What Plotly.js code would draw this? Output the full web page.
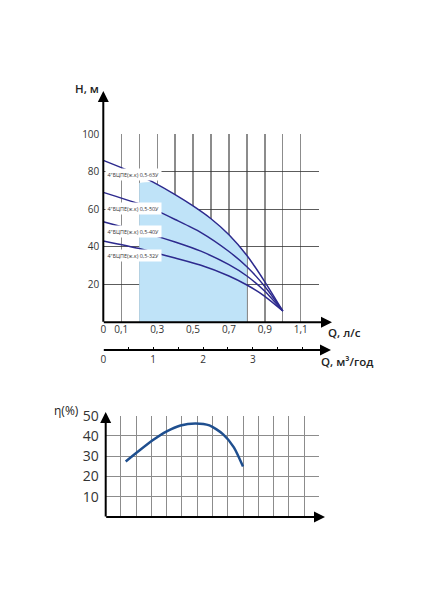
<!DOCTYPE html>
<html>
<head>
<meta charset="utf-8">
<script src="https://cdn.plot.ly/plotly-3.0.1.min.js"></script>
<style>html,body{margin:0;padding:0;background:#fff}#chart{width:423px;height:600px}</style>
</head>
<body>
<div id="chart"></div>
<script>
// ---- Pump head curves H(Q), Q in л/с, H in м ----
const q63 = [0, 0.18, 0.28, 0.4, 0.5, 0.6, 0.7, 0.8, 0.9, 1.0];
const h63 = [86, 79, 74.3, 67.8, 61.8, 55, 46.5, 35.5, 21.5, 6];
const q50 = [0, 0.19, 0.297, 0.4, 0.54, 0.7, 0.8, 0.9, 1.0];
const h50 = [69, 63.2, 59.3, 54.6, 47.9, 37.6, 29.5, 19, 6];
const q40 = [0, 0.19, 0.29, 0.4, 0.54, 0.7, 0.8, 0.9, 1.0];
const h40 = [53.4, 48.5, 45.9, 42.6, 37.9, 30.6, 24.6, 16.5, 6];
const q32 = [0, 0.195, 0.29, 0.4, 0.54, 0.7, 0.8, 0.9, 1.0];
const h32 = [43.2, 39.3, 36.9, 34.1, 30.4, 24.6, 19.8, 13.8, 6];
// working zone (shaded)
const zoneQ = [0.2, 0.28, 0.4, 0.5, 0.6, 0.7, 0.8];
const zoneH = [74, 74.3, 67.8, 61.8, 55, 46.5, 35.5];
// labels
const pumpNames = ['4"БЦПЕ(ж.к) 0,5-63У', '4"БЦПЕ(ж.к) 0,5-50У', '4"БЦПЕ(ж.к) 0,5-40У', '4"БЦПЕ(ж.к) 0,5-32У'];
const labelQ = [0.012, 0.012, 0.012, 0.012];
const labelH = [78.4, 60.2, 48, 35.7];
// axis ticks
const qTickVals = [0, 0.1, 0.2, 0.3, 0.4, 0.5, 0.6, 0.7, 0.8, 0.9, 1.0, 1.1, 1.2];
const qTickText = ['0', '0,1', '', '0,3', '', '0,5', '', '0,7', '', '0,9', '', '1,1', ''];
const hTickVals = [20, 40, 60, 80, 100];
const m3TickVals = [0, 0.5, 1, 1.5, 2, 2.5, 3, 3.5, 4];
const m3TickText = ['0', '', '1', '', '2', '', '3', '', ''];
// efficiency curve (grid units on lower chart), η in %
const effX = [1.31, 2.1, 3.1, 4.0, 4.9, 5.9, 6.8, 7.7, 8.4, 9.0];
const effY = [27.4, 32.2, 38.0, 42.3, 45.2, 46.2, 45.2, 40.8, 34.4, 24.9];
const effTickVals = [10, 20, 30, 40, 50];

const W = 423, H = 600;
const px = v => v / W, py = v => 1 - v / H;
const curveColor = '#2d2a8e';
const font = 'Open Sans, Roboto, sans-serif';

const line = (q, h) => ({x: q, y: h, xaxis: 'x', yaxis: 'y', mode: 'lines',
  line: {color: curveColor, width: 1.5, shape: 'spline', smoothing: 0.6},
  hoverinfo: 'skip', showlegend: false});

const data = [
  {x: zoneQ, y: zoneH, xaxis: 'x', yaxis: 'y', mode: 'lines', fill: 'tozeroy',
   fillcolor: '#bfe3f8', line: {width: 0, shape: 'spline', smoothing: 0.6}, hoverinfo: 'skip', showlegend: false},
  line(q63, h63), line(q50, h50), line(q40, h40), line(q32, h32),
  {x: [0, 4.32], y: [null, null], xaxis: 'x2', yaxis: 'y', mode: 'lines', hoverinfo: 'skip', showlegend: false},
  {x: effX, y: effY, xaxis: 'x3', yaxis: 'y3', mode: 'lines',
   line: {color: '#1f4f8f', width: 2.5, shape: 'spline', smoothing: 0.7}, hoverinfo: 'skip', showlegend: false}
];

const annotations = pumpNames.map((t, i) => ({
  x: labelQ[i], y: labelH[i], xref: 'x', yref: 'y', text: t, showarrow: false,
  xanchor: 'left', yanchor: 'middle', bgcolor: '#ffffff', borderpad: 1.5,
  font: {family: font, size: 5.4, color: '#333'}
}));

function arrow(hx, hy, tx, ty) {
  return {x: px(hx), y: py(hy), xref: 'paper', yref: 'paper', ax: tx - hx, ay: ty - hy,
    axref: 'pixel', ayref: 'pixel', text: '', showarrow: true, arrowhead: 2, arrowsize: 1.1,
    arrowwidth: 2, arrowcolor: '#000'};
}
annotations.push(arrow(103.3, 91, 103.3, 323.3));
annotations.push(arrow(332, 322.3, 102.3, 322.3));
annotations.push(arrow(331, 350, 102.3, 350));
annotations.push(arrow(105.7, 412, 105.7, 518));
annotations.push(arrow(325, 517, 104.7, 517));

function txt(t, x, y, size, anchor, weight) {
  return {x: px(x), y: py(y), xref: 'paper', yref: 'paper', text: t, showarrow: false,
    xanchor: anchor || 'left', yanchor: 'middle', font: {family: font, size: size, color: '#222', weight: weight || 400}};
}
annotations.push(txt('H, м', 73, 89, 11.5, 'left', 600));
annotations.push(txt('Q, л/с', 326, 332.5, 11.5, 'left', 600));
annotations.push(txt('Q, м³/год', 319, 361, 11.5, 'left', 600));
annotations.push(txt('η(%)', 52, 410, 12, 'left', 400));

const layout = {
  width: W, height: H, margin: {l: 0, r: 0, t: 0, b: 0},
  paper_bgcolor: '#fff', plot_bgcolor: 'rgba(0,0,0,0)', showlegend: false,
  xaxis: {domain: [px(103.3), px(318.7)], range: [0, 1.2], anchor: 'y',
    tickvals: qTickVals, ticktext: qTickText, showgrid: true, gridcolor: '#8c8c8c', gridwidth: 1.3,
    zeroline: false, showline: false, ticks: '', tickfont: {family: font, size: 10, color: '#333'}},
  yaxis: {domain: [py(322.3), py(134)], range: [0, 100], anchor: 'x',
    tickvals: hTickVals, showgrid: true, gridcolor: '#333', gridwidth: 0.8,
    zeroline: false, showline: false, ticks: '', ticklabelstandoff: 3,
    tickfont: {family: font, size: 10, color: '#333'}},
  xaxis2: {overlaying: 'x', anchor: 'free', position: py(350), side: 'bottom',
    domain: [px(103.3), px(318.7)], range: [0, 4.32], tickvals: m3TickVals, ticktext: m3TickText,
    showgrid: false, zeroline: false, showline: false, ticks: 'inside', ticklen: 3, tickwidth: 1, tickcolor: '#000',
    ticklabelstandoff: 2, tickfont: {family: font, size: 10, color: '#333'}},
  xaxis3: {domain: [px(105.7), px(319.3)], range: [0, 14], anchor: 'y3', dtick: 1,
    showticklabels: false, showgrid: true, gridcolor: '#8c8c8c', gridwidth: 1, zeroline: false, showline: false, ticks: ''},
  yaxis3: {domain: [py(517), py(415.7)], range: [0, 50], anchor: 'x3',
    tickvals: effTickVals, showgrid: true, gridcolor: '#8c8c8c', gridwidth: 1, zeroline: false, showline: false,
    ticks: '', ticklabelstandoff: 6, tickfont: {family: font, size: 14, color: '#333'}},
  annotations: annotations
};

Plotly.newPlot('chart', data, layout, {staticPlot: true, displayModeBar: false});
</script>
</body>
</html>
